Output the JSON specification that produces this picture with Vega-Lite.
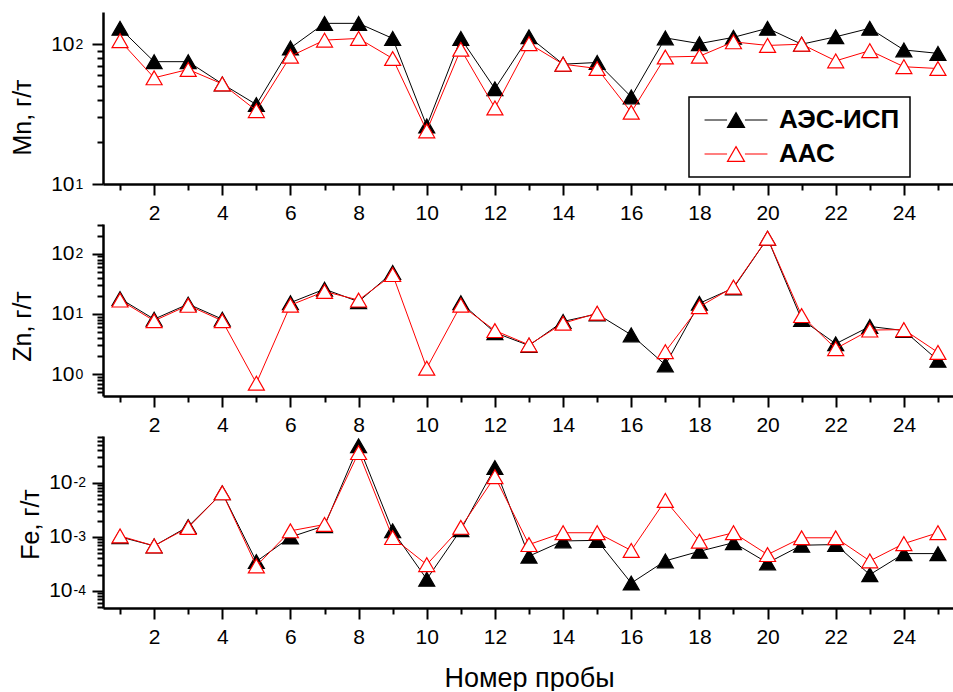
{
  "$schema": "https://vega.github.io/schema/vega-lite/v6.json",
  "background": "white",
  "padding": {"left": 10, "top": 12, "right": 0, "bottom": 0},
  "config": {
    "view": {"stroke": null},
    "axis": {
      "grid": false,
      "domainColor": "black",
      "domainWidth": 2.5,
      "tickColor": "black",
      "tickWidth": 2,
      "labelColor": "black",
      "titleColor": "black",
      "labelFont": "Liberation Sans",
      "titleFont": "Liberation Sans",
      "labelFontSize": 21,
      "titleFontSize": 25,
      "titleFontWeight": "normal",
      "labelOverlap": false,
      "labelFlush": false
    },
    "legend": {"strokeWidth": 1.5}
  },
  "data": {
    "values": [
      {"n": 1, "m": "АЭС-ИСП", "el": "Mn", "v": 130}, {"n": 2, "m": "АЭС-ИСП", "el": "Mn", "v": 75}, {"n": 3, "m": "АЭС-ИСП", "el": "Mn", "v": 75}, {"n": 4, "m": "АЭС-ИСП", "el": "Mn", "v": 52}, {"n": 5, "m": "АЭС-ИСП", "el": "Mn", "v": 37},
      {"n": 6, "m": "АЭС-ИСП", "el": "Mn", "v": 94}, {"n": 7, "m": "АЭС-ИСП", "el": "Mn", "v": 141}, {"n": 8, "m": "АЭС-ИСП", "el": "Mn", "v": 141}, {"n": 9, "m": "АЭС-ИСП", "el": "Mn", "v": 110}, {"n": 10, "m": "АЭС-ИСП", "el": "Mn", "v": 26},
      {"n": 11, "m": "АЭС-ИСП", "el": "Mn", "v": 110}, {"n": 12, "m": "АЭС-ИСП", "el": "Mn", "v": 48}, {"n": 13, "m": "АЭС-ИСП", "el": "Mn", "v": 113}, {"n": 14, "m": "АЭС-ИСП", "el": "Mn", "v": 72}, {"n": 15, "m": "АЭС-ИСП", "el": "Mn", "v": 74},
      {"n": 16, "m": "АЭС-ИСП", "el": "Mn", "v": 42}, {"n": 17, "m": "АЭС-ИСП", "el": "Mn", "v": 111}, {"n": 18, "m": "АЭС-ИСП", "el": "Mn", "v": 101}, {"n": 19, "m": "АЭС-ИСП", "el": "Mn", "v": 112}, {"n": 20, "m": "АЭС-ИСП", "el": "Mn", "v": 130},
      {"n": 21, "m": "АЭС-ИСП", "el": "Mn", "v": 100}, {"n": 22, "m": "АЭС-ИСП", "el": "Mn", "v": 113}, {"n": 23, "m": "АЭС-ИСП", "el": "Mn", "v": 130}, {"n": 24, "m": "АЭС-ИСП", "el": "Mn", "v": 91}, {"n": 25, "m": "АЭС-ИСП", "el": "Mn", "v": 86},
      {"n": 1, "m": "ААС", "el": "Mn", "v": 106}, {"n": 2, "m": "ААС", "el": "Mn", "v": 57.5}, {"n": 3, "m": "ААС", "el": "Mn", "v": 66}, {"n": 4, "m": "ААС", "el": "Mn", "v": 52}, {"n": 5, "m": "ААС", "el": "Mn", "v": 33.5},
      {"n": 6, "m": "ААС", "el": "Mn", "v": 82}, {"n": 7, "m": "ААС", "el": "Mn", "v": 107}, {"n": 8, "m": "ААС", "el": "Mn", "v": 110}, {"n": 9, "m": "ААС", "el": "Mn", "v": 79}, {"n": 10, "m": "ААС", "el": "Mn", "v": 24},
      {"n": 11, "m": "ААС", "el": "Mn", "v": 92}, {"n": 12, "m": "ААС", "el": "Mn", "v": 35}, {"n": 13, "m": "ААС", "el": "Mn", "v": 101}, {"n": 14, "m": "ААС", "el": "Mn", "v": 72}, {"n": 15, "m": "ААС", "el": "Mn", "v": 67},
      {"n": 16, "m": "ААС", "el": "Mn", "v": 32.6}, {"n": 17, "m": "ААС", "el": "Mn", "v": 81}, {"n": 18, "m": "ААС", "el": "Mn", "v": 82}, {"n": 19, "m": "ААС", "el": "Mn", "v": 104}, {"n": 20, "m": "ААС", "el": "Mn", "v": 98},
      {"n": 21, "m": "ААС", "el": "Mn", "v": 100}, {"n": 22, "m": "ААС", "el": "Mn", "v": 76}, {"n": 23, "m": "ААС", "el": "Mn", "v": 90}, {"n": 24, "m": "ААС", "el": "Mn", "v": 69}, {"n": 25, "m": "ААС", "el": "Mn", "v": 67},

      {"n": 1, "m": "АЭС-ИСП", "el": "Zn", "v": 18}, {"n": 2, "m": "АЭС-ИСП", "el": "Zn", "v": 8.2}, {"n": 3, "m": "АЭС-ИСП", "el": "Zn", "v": 14.6}, {"n": 4, "m": "АЭС-ИСП", "el": "Zn", "v": 8.2}, {"n": 5, "m": "АЭС-ИСП", "el": "Zn", "v": null},
      {"n": 6, "m": "АЭС-ИСП", "el": "Zn", "v": 15.4}, {"n": 7, "m": "АЭС-ИСП", "el": "Zn", "v": 25.8}, {"n": 8, "m": "АЭС-ИСП", "el": "Zn", "v": 16}, {"n": 9, "m": "АЭС-ИСП", "el": "Zn", "v": 49}, {"n": 10, "m": "АЭС-ИСП", "el": "Zn", "v": null},
      {"n": 11, "m": "АЭС-ИСП", "el": "Zn", "v": 15.4}, {"n": 12, "m": "АЭС-ИСП", "el": "Zn", "v": 4.9}, {"n": 13, "m": "АЭС-ИСП", "el": "Zn", "v": 3.0}, {"n": 14, "m": "АЭС-ИСП", "el": "Zn", "v": 7.5}, {"n": 15, "m": "АЭС-ИСП", "el": "Zn", "v": 10},
      {"n": 16, "m": "АЭС-ИСП", "el": "Zn", "v": 4.5}, {"n": 17, "m": "АЭС-ИСП", "el": "Zn", "v": 1.43}, {"n": 18, "m": "АЭС-ИСП", "el": "Zn", "v": 15}, {"n": 19, "m": "АЭС-ИСП", "el": "Zn", "v": 27}, {"n": 20, "m": "АЭС-ИСП", "el": "Zn", "v": 180},
      {"n": 21, "m": "АЭС-ИСП", "el": "Zn", "v": 8.1}, {"n": 22, "m": "АЭС-ИСП", "el": "Zn", "v": 3.2}, {"n": 23, "m": "АЭС-ИСП", "el": "Zn", "v": 6.2}, {"n": 24, "m": "АЭС-ИСП", "el": "Zn", "v": 5.3}, {"n": 25, "m": "АЭС-ИСП", "el": "Zn", "v": 1.7},
      {"n": 1, "m": "ААС", "el": "Zn", "v": 17}, {"n": 2, "m": "ААС", "el": "Zn", "v": 7.7}, {"n": 3, "m": "ААС", "el": "Zn", "v": 13.9}, {"n": 4, "m": "ААС", "el": "Zn", "v": 7.7}, {"n": 5, "m": "ААС", "el": "Zn", "v": 0.71},
      {"n": 6, "m": "ААС", "el": "Zn", "v": 14}, {"n": 7, "m": "ААС", "el": "Zn", "v": 23.6}, {"n": 8, "m": "ААС", "el": "Zn", "v": 17}, {"n": 9, "m": "ААС", "el": "Zn", "v": 45}, {"n": 10, "m": "ААС", "el": "Zn", "v": 1.26},
      {"n": 11, "m": "ААС", "el": "Zn", "v": 14}, {"n": 12, "m": "ААС", "el": "Zn", "v": 5.3}, {"n": 13, "m": "ААС", "el": "Zn", "v": 3.07}, {"n": 14, "m": "ААС", "el": "Zn", "v": 7.0}, {"n": 15, "m": "ААС", "el": "Zn", "v": 10.3},
      {"n": 16, "m": "ААС", "el": "Zn", "v": null}, {"n": 17, "m": "ААС", "el": "Zn", "v": 2.37}, {"n": 18, "m": "ААС", "el": "Zn", "v": 13.2}, {"n": 19, "m": "ААС", "el": "Zn", "v": 27.9}, {"n": 20, "m": "ААС", "el": "Zn", "v": 181},
      {"n": 21, "m": "ААС", "el": "Zn", "v": 9.4}, {"n": 22, "m": "ААС", "el": "Zn", "v": 2.66}, {"n": 23, "m": "ААС", "el": "Zn", "v": 5.4}, {"n": 24, "m": "ААС", "el": "Zn", "v": 5.5}, {"n": 25, "m": "ААС", "el": "Zn", "v": 2.3},

      {"n": 1, "m": "АЭС-ИСП", "el": "Fe", "v": 0.001}, {"n": 2, "m": "АЭС-ИСП", "el": "Fe", "v": 0.00068}, {"n": 3, "m": "АЭС-ИСП", "el": "Fe", "v": 0.00155}, {"n": 4, "m": "АЭС-ИСП", "el": "Fe", "v": 0.0065}, {"n": 5, "m": "АЭС-ИСП", "el": "Fe", "v": 0.00035},
      {"n": 6, "m": "АЭС-ИСП", "el": "Fe", "v": 0.00099}, {"n": 7, "m": "АЭС-ИСП", "el": "Fe", "v": 0.0016}, {"n": 8, "m": "АЭС-ИСП", "el": "Fe", "v": 0.048}, {"n": 9, "m": "АЭС-ИСП", "el": "Fe", "v": 0.00129}, {"n": 10, "m": "АЭС-ИСП", "el": "Fe", "v": 0.000165},
      {"n": 11, "m": "АЭС-ИСП", "el": "Fe", "v": 0.00135}, {"n": 12, "m": "АЭС-ИСП", "el": "Fe", "v": 0.019}, {"n": 13, "m": "АЭС-ИСП", "el": "Fe", "v": 0.00044}, {"n": 14, "m": "АЭС-ИСП", "el": "Fe", "v": 0.00084}, {"n": 15, "m": "АЭС-ИСП", "el": "Fe", "v": 0.00086},
      {"n": 16, "m": "АЭС-ИСП", "el": "Fe", "v": 0.00014}, {"n": 17, "m": "АЭС-ИСП", "el": "Fe", "v": 0.00036}, {"n": 18, "m": "АЭС-ИСП", "el": "Fe", "v": 0.00054}, {"n": 19, "m": "АЭС-ИСП", "el": "Fe", "v": 0.00078}, {"n": 20, "m": "АЭС-ИСП", "el": "Fe", "v": 0.00033},
      {"n": 21, "m": "АЭС-ИСП", "el": "Fe", "v": 0.0007}, {"n": 22, "m": "АЭС-ИСП", "el": "Fe", "v": 0.00072}, {"n": 23, "m": "АЭС-ИСП", "el": "Fe", "v": 0.0002}, {"n": 24, "m": "АЭС-ИСП", "el": "Fe", "v": 0.00049}, {"n": 25, "m": "АЭС-ИСП", "el": "Fe", "v": 0.00049},
      {"n": 1, "m": "ААС", "el": "Fe", "v": 0.00104}, {"n": 2, "m": "ААС", "el": "Fe", "v": 0.00068}, {"n": 3, "m": "ААС", "el": "Fe", "v": 0.00149}, {"n": 4, "m": "ААС", "el": "Fe", "v": 0.0065}, {"n": 5, "m": "ААС", "el": "Fe", "v": 0.00029},
      {"n": 6, "m": "ААС", "el": "Fe", "v": 0.00129}, {"n": 7, "m": "ААС", "el": "Fe", "v": 0.00169}, {"n": 8, "m": "ААС", "el": "Fe", "v": 0.036}, {"n": 9, "m": "ААС", "el": "Fe", "v": 0.00097}, {"n": 10, "m": "ААС", "el": "Fe", "v": 0.000307},
      {"n": 11, "m": "ААС", "el": "Fe", "v": 0.0015}, {"n": 12, "m": "ААС", "el": "Fe", "v": 0.0129}, {"n": 13, "m": "ААС", "el": "Fe", "v": 0.00072}, {"n": 14, "m": "ААС", "el": "Fe", "v": 0.00119}, {"n": 15, "m": "ААС", "el": "Fe", "v": 0.00119},
      {"n": 16, "m": "ААС", "el": "Fe", "v": 0.00056}, {"n": 17, "m": "ААС", "el": "Fe", "v": 0.0047}, {"n": 18, "m": "ААС", "el": "Fe", "v": 0.00083}, {"n": 19, "m": "ААС", "el": "Fe", "v": 0.00119}, {"n": 20, "m": "ААС", "el": "Fe", "v": 0.00047},
      {"n": 21, "m": "ААС", "el": "Fe", "v": 0.00096}, {"n": 22, "m": "ААС", "el": "Fe", "v": 0.00096}, {"n": 23, "m": "ААС", "el": "Fe", "v": 0.00036}, {"n": 24, "m": "ААС", "el": "Fe", "v": 0.00075}, {"n": 25, "m": "ААС", "el": "Fe", "v": 0.00119}
    ]
  },
  "bounds": "flush",
  "spacing": 40,
  "resolve": {
    "scale": {"x": "independent", "y": "independent", "stroke": "independent", "fill": "independent"},
    "legend": {"stroke": "independent", "fill": "independent"}
  },
  "vconcat": [
    {
      "width": 852,
      "height": 172,
      "transform": [{"filter": "datum.el === 'Mn'"}],
      "resolve": {"axis": {"x": "independent", "y": "independent"}},
      "layer": [
        {
          "transform": [{"filter": "datum.m === 'АЭС-ИСП'"}],
          "mark": {"type": "point", "shape": "triangle-up", "size": 256, "strokeWidth": 1.2, "opacity": 1},
          "encoding": {
            "x": {"field": "n", "type": "quantitative", "scale": {"domain": [0.5, 25.5], "nice": false, "zero": false},
                  "axis": {"orient": "bottom", "values": [2, 4, 6, 8, 10, 12, 14, 16, 18, 20, 22, 24], "format": "d", "tickSize": 11, "labelPadding": 7, "title": null}},
            "y": {"field": "v", "type": "quantitative", "scale": {"type": "log", "domain": [10, 170], "nice": false},
                  "axis": {"orient": "left", "values": [10, 100], "tickSize": 11, "labelExpr": "'10'", "labelPadding": 18, "labelBaseline": "middle", "labelDy": 3,
                           "title": "Mn, г/т", "titleX": -73, "titleY": 105, "titleBaseline": "alphabetic", "titleAlign": "center", "titleAngle": -90}},
            "stroke": {"field": "m", "type": "nominal", "scale": {"domain": ["АЭС-ИСП", "ААС"], "range": ["black", "#ff0000"]},
                       "legend": {"orient": "none", "legendX": 586, "legendY": 85, "title": null,
                                  "symbolType": "M-3.7,0L-1.05,0M1.05,0L3.7,0M0,-0.866L1,0.866L-1,0.866Z",
                                  "symbolSize": 289, "symbolStrokeWidth": 1.2, "symbolOffset": 24, "labelOffset": 30,
                                  "labelFont": "Liberation Sans", "labelFontSize": 26, "labelFontWeight": "bold", "labelColor": "black",
                                  "padding": 10, "rowPadding": 8, "strokeColor": "black", "fillColor": "white"}},
            "fill": {"field": "m", "type": "nominal", "scale": {"domain": ["АЭС-ИСП", "ААС"], "range": ["black", "white"]},
                     "legend": {"orient": "none", "legendX": 586, "legendY": 85, "title": null,
                                "symbolType": "M-3.7,0L-1.05,0M1.05,0L3.7,0M0,-0.866L1,0.866L-1,0.866Z",
                                "symbolSize": 289, "symbolStrokeWidth": 1.2, "symbolOffset": 24, "labelOffset": 30,
                                "labelFont": "Liberation Sans", "labelFontSize": 26, "labelFontWeight": "bold", "labelColor": "black",
                                "padding": 10, "rowPadding": 8, "strokeColor": "black", "fillColor": "white"}}
          }
        },
        {
          "transform": [{"filter": "datum.m === 'АЭС-ИСП'"}],
          "mark": {"type": "line", "strokeWidth": 1},
          "encoding": {
            "x": {"field": "n", "type": "quantitative", "scale": {"domain": [0.5, 25.5], "nice": false, "zero": false},
                  "axis": {"orient": "bottom", "values": [1, 3, 5, 7, 9, 11, 13, 15, 17, 19, 21, 23, 25], "tickSize": 6, "labels": false, "domain": false, "title": null}},
            "y": {"field": "v", "type": "quantitative", "scale": {"type": "log", "domain": [10, 170], "nice": false},
                  "axis": {"orient": "left", "values": [10, 100], "ticks": false, "tickSize": 0, "domain": false, "labelExpr": "'' + round(log(datum.value) / LN10)",
                           "labelFontSize": 14, "labelAlign": "left", "labelPadding": 28, "labelBaseline": "middle", "labelDy": -3, "title": null}},
            "stroke": {"field": "m", "type": "nominal", "scale": {"domain": ["АЭС-ИСП", "ААС"], "range": ["black", "#ff0000"]}}
          }
        },
        {
          "transform": [{"filter": "datum.m === 'ААС'"}],
          "mark": {"type": "line", "strokeWidth": 1},
          "encoding": {
            "x": {"field": "n", "type": "quantitative", "scale": {"domain": [0.5, 25.5], "nice": false, "zero": false}, "axis": null},
            "y": {"field": "v", "type": "quantitative", "scale": {"type": "log", "domain": [10, 170], "nice": false},
                  "axis": {"orient": "left", "values": [20, 30, 40, 50, 60, 70, 80, 90], "tickSize": 6, "labels": false, "domain": false, "title": null}},
            "stroke": {"field": "m", "type": "nominal", "scale": {"domain": ["АЭС-ИСП", "ААС"], "range": ["black", "#ff0000"]}}
          }
        },
        {
          "transform": [{"filter": "datum.m === 'ААС'"}],
          "mark": {"type": "point", "shape": "triangle-up", "size": 256, "strokeWidth": 1.2, "opacity": 1},
          "encoding": {
            "x": {"field": "n", "type": "quantitative", "scale": {"domain": [0.5, 25.5], "nice": false, "zero": false}, "axis": null},
            "y": {"field": "v", "type": "quantitative", "scale": {"type": "log", "domain": [10, 170], "nice": false}, "axis": null},
            "stroke": {"field": "m", "type": "nominal", "scale": {"domain": ["АЭС-ИСП", "ААС"], "range": ["black", "#ff0000"]}},
            "fill": {"field": "m", "type": "nominal", "scale": {"domain": ["АЭС-ИСП", "ААС"], "range": ["black", "white"]}}
          }
        }
      ]
    },
    {
      "width": 852,
      "height": 172,
      "transform": [{"filter": "datum.el === 'Zn'"}],
      "resolve": {"axis": {"x": "independent", "y": "independent"}},
      "layer": [
        {
          "transform": [{"filter": "datum.m === 'АЭС-ИСП'"}],
          "mark": {"type": "line", "strokeWidth": 1},
          "encoding": {
            "x": {"field": "n", "type": "quantitative", "scale": {"domain": [0.5, 25.5], "nice": false, "zero": false},
                  "axis": {"orient": "bottom", "values": [2, 4, 6, 8, 10, 12, 14, 16, 18, 20, 22, 24], "format": "d", "tickSize": 11, "labelPadding": 7, "title": null}},
            "y": {"field": "v", "type": "quantitative", "scale": {"type": "log", "domain": [0.435, 311], "nice": false},
                  "axis": {"orient": "left", "values": [1, 10, 100], "tickSize": 11, "labelExpr": "'10'", "labelPadding": 18, "labelBaseline": "middle", "labelDy": 3,
                           "title": "Zn, г/т", "titleX": -73, "titleY": 102, "titleBaseline": "alphabetic", "titleAlign": "center", "titleAngle": -90}},
            "stroke": {"field": "m", "type": "nominal", "scale": {"domain": ["АЭС-ИСП", "ААС"], "range": ["black", "#ff0000"]}, "legend": null}
          }
        },
        {
          "transform": [{"filter": "datum.m === 'АЭС-ИСП'"}],
          "mark": {"type": "point", "shape": "triangle-up", "size": 256, "strokeWidth": 1.2, "opacity": 1},
          "encoding": {
            "x": {"field": "n", "type": "quantitative", "scale": {"domain": [0.5, 25.5], "nice": false, "zero": false},
                  "axis": {"orient": "bottom", "values": [1, 3, 5, 7, 9, 11, 13, 15, 17, 19, 21, 23, 25], "tickSize": 6, "labels": false, "domain": false, "title": null}},
            "y": {"field": "v", "type": "quantitative", "scale": {"type": "log", "domain": [0.435, 311], "nice": false},
                  "axis": {"orient": "left", "values": [1, 10, 100], "ticks": false, "tickSize": 0, "domain": false, "labelExpr": "'' + round(log(datum.value) / LN10)",
                           "labelFontSize": 14, "labelAlign": "left", "labelPadding": 28, "labelBaseline": "middle", "labelDy": -3, "title": null}},
            "stroke": {"field": "m", "type": "nominal", "scale": {"domain": ["АЭС-ИСП", "ААС"], "range": ["black", "#ff0000"]}, "legend": null},
            "fill": {"field": "m", "type": "nominal", "scale": {"domain": ["АЭС-ИСП", "ААС"], "range": ["black", "white"]}, "legend": null}
          }
        },
        {
          "transform": [{"filter": "datum.m === 'ААС'"}],
          "mark": {"type": "line", "strokeWidth": 1},
          "encoding": {
            "x": {"field": "n", "type": "quantitative", "scale": {"domain": [0.5, 25.5], "nice": false, "zero": false}, "axis": null},
            "y": {"field": "v", "type": "quantitative", "scale": {"type": "log", "domain": [0.435, 311], "nice": false},
                  "axis": {"orient": "left", "values": [0.5, 0.6, 0.7, 0.8, 0.9, 2, 3, 4, 5, 6, 7, 8, 9, 20, 30, 40, 50, 60, 70, 80, 90, 200, 300], "tickSize": 6, "labels": false, "domain": false, "title": null}},
            "stroke": {"field": "m", "type": "nominal", "scale": {"domain": ["АЭС-ИСП", "ААС"], "range": ["black", "#ff0000"]}, "legend": null}
          }
        },
        {
          "transform": [{"filter": "datum.m === 'ААС'"}],
          "mark": {"type": "point", "shape": "triangle-up", "size": 256, "strokeWidth": 1.2, "opacity": 1},
          "encoding": {
            "x": {"field": "n", "type": "quantitative", "scale": {"domain": [0.5, 25.5], "nice": false, "zero": false}, "axis": null},
            "y": {"field": "v", "type": "quantitative", "scale": {"type": "log", "domain": [0.435, 311], "nice": false}, "axis": null},
            "stroke": {"field": "m", "type": "nominal", "scale": {"domain": ["АЭС-ИСП", "ААС"], "range": ["black", "#ff0000"]}, "legend": null},
            "fill": {"field": "m", "type": "nominal", "scale": {"domain": ["АЭС-ИСП", "ААС"], "range": ["black", "white"]}, "legend": null}
          }
        }
      ]
    },
    {
      "width": 852,
      "height": 172,
      "transform": [{"filter": "datum.el === 'Fe'"}],
      "resolve": {"axis": {"x": "independent", "y": "independent"}},
      "layer": [
        {
          "transform": [{"filter": "datum.m === 'АЭС-ИСП'"}],
          "mark": {"type": "line", "strokeWidth": 1},
          "encoding": {
            "x": {"field": "n", "type": "quantitative", "scale": {"domain": [0.5, 25.5], "nice": false, "zero": false},
                  "axis": {"orient": "bottom", "values": [2, 4, 6, 8, 10, 12, 14, 16, 18, 20, 22, 24], "format": "d", "tickSize": 11, "labelPadding": 7,
                           "title": "Номер пробы", "titleFontSize": 27, "titleY": 78, "titleBaseline": "alphabetic"}},
            "y": {"field": "v", "type": "quantitative", "scale": {"type": "log", "domain": [0.0000485, 0.0728], "nice": false},
                  "axis": {"orient": "left", "values": [0.0001, 0.001, 0.01], "tickSize": 11, "labelExpr": "'10'", "labelPadding": 20, "labelBaseline": "middle", "labelDy": 3,
                           "title": "Fe, г/т", "titleX": -65, "titleY": 88, "titleBaseline": "alphabetic", "titleAlign": "center", "titleAngle": -90}},
            "stroke": {"field": "m", "type": "nominal", "scale": {"domain": ["АЭС-ИСП", "ААС"], "range": ["black", "#ff0000"]}, "legend": null}
          }
        },
        {
          "transform": [{"filter": "datum.m === 'АЭС-ИСП'"}],
          "mark": {"type": "point", "shape": "triangle-up", "size": 256, "strokeWidth": 1.2, "opacity": 1},
          "encoding": {
            "x": {"field": "n", "type": "quantitative", "scale": {"domain": [0.5, 25.5], "nice": false, "zero": false},
                  "axis": {"orient": "bottom", "values": [1, 3, 5, 7, 9, 11, 13, 15, 17, 19, 21, 23, 25], "tickSize": 6, "labels": false, "domain": false, "title": null}},
            "y": {"field": "v", "type": "quantitative", "scale": {"type": "log", "domain": [0.0000485, 0.0728], "nice": false},
                  "axis": {"orient": "left", "values": [0.0001, 0.001, 0.01], "ticks": false, "tickSize": 0, "domain": false, "labelExpr": "'' + round(log(datum.value) / LN10)",
                           "labelFontSize": 14, "labelAlign": "left", "labelPadding": 30, "labelBaseline": "middle", "labelDy": -3, "title": null}},
            "stroke": {"field": "m", "type": "nominal", "scale": {"domain": ["АЭС-ИСП", "ААС"], "range": ["black", "#ff0000"]}, "legend": null},
            "fill": {"field": "m", "type": "nominal", "scale": {"domain": ["АЭС-ИСП", "ААС"], "range": ["black", "white"]}, "legend": null}
          }
        },
        {
          "transform": [{"filter": "datum.m === 'ААС'"}],
          "mark": {"type": "line", "strokeWidth": 1},
          "encoding": {
            "x": {"field": "n", "type": "quantitative", "scale": {"domain": [0.5, 25.5], "nice": false, "zero": false}, "axis": null},
            "y": {"field": "v", "type": "quantitative", "scale": {"type": "log", "domain": [0.0000485, 0.0728], "nice": false},
                  "axis": {"orient": "left", "values": [0.00005, 0.00006, 0.00007, 0.00008, 0.00009, 0.0002, 0.0003, 0.0004, 0.0005, 0.0006, 0.0007, 0.0008, 0.0009, 0.002, 0.003, 0.004, 0.005, 0.006, 0.007, 0.008, 0.009, 0.02, 0.03, 0.04, 0.05, 0.06, 0.07], "tickSize": 6, "labels": false, "domain": false, "title": null}},
            "stroke": {"field": "m", "type": "nominal", "scale": {"domain": ["АЭС-ИСП", "ААС"], "range": ["black", "#ff0000"]}, "legend": null}
          }
        },
        {
          "transform": [{"filter": "datum.m === 'ААС'"}],
          "mark": {"type": "point", "shape": "triangle-up", "size": 256, "strokeWidth": 1.2, "opacity": 1},
          "encoding": {
            "x": {"field": "n", "type": "quantitative", "scale": {"domain": [0.5, 25.5], "nice": false, "zero": false}, "axis": null},
            "y": {"field": "v", "type": "quantitative", "scale": {"type": "log", "domain": [0.0000485, 0.0728], "nice": false}, "axis": null},
            "stroke": {"field": "m", "type": "nominal", "scale": {"domain": ["АЭС-ИСП", "ААС"], "range": ["black", "#ff0000"]}, "legend": null},
            "fill": {"field": "m", "type": "nominal", "scale": {"domain": ["АЭС-ИСП", "ААС"], "range": ["black", "white"]}, "legend": null}
          }
        }
      ]
    }
  ]
}
